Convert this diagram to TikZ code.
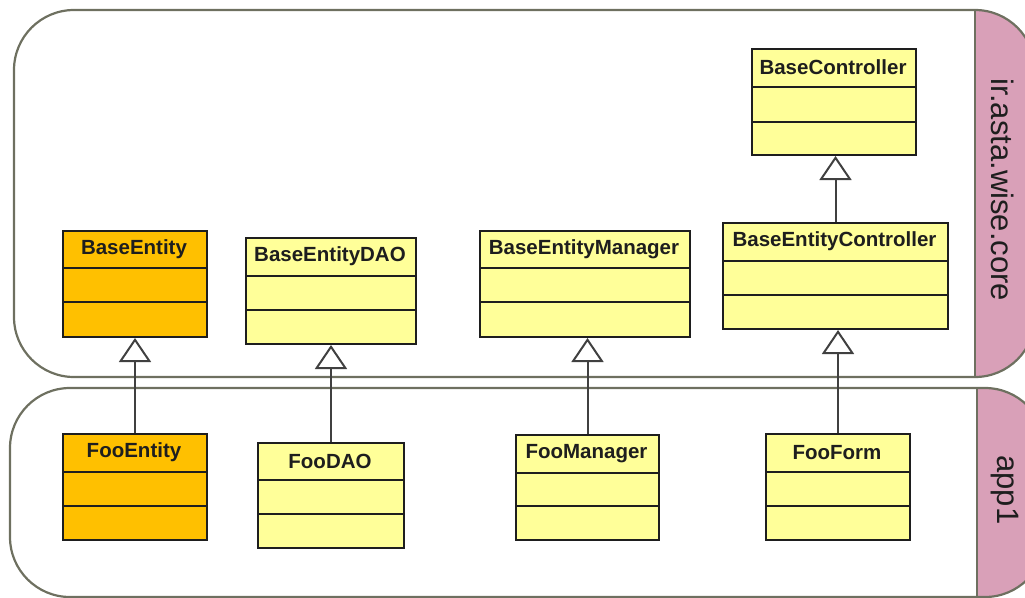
\documentclass[tikz,border=0pt]{standalone}
\usepackage{fontspec}
\setmainfont{Liberation Sans}
\usetikzlibrary{arrows.meta}

\definecolor{pkgline}{HTML}{6E7060}
\definecolor{tabpink}{HTML}{D9A0B8}
\definecolor{classyellow}{HTML}{FFFF99}
\definecolor{classorange}{HTML}{FFC000}
\definecolor{ink}{HTML}{1E1E1E}

\tikzset{
  pkg/.style={draw=pkgline, line width=2.2pt},
  classbox/.style={draw=ink, line width=2pt, rectangle, inner sep=0pt, anchor=north west},
  classname/.style={font=\fontsize{20.5}{24}\selectfont\bfseries, text=ink, inner sep=0pt},
  divider/.style={draw=ink, line width=2pt},
  tablabel/.style={font=\fontsize{31}{36}\selectfont, text=ink, rotate=-90, inner sep=0pt},
  gen/.style={draw=ink!85, line width=2pt, -{Triangle[open, width=32pt, length=24pt, line width=2pt]}},
}

% \umlclass{name}{fill}{left}{top}{right}{bottom}{div1}{div2}{title}
\newcommand{\umlclass}[9]{%
  \node[classbox, fill=#2, minimum width=#5pt-#3pt, minimum height=#6pt-#4pt] (#1) at (#3,#4) {};
  \draw[divider] (#3,#7) -- (#5,#7);
  \draw[divider] (#3,#8) -- (#5,#8);
  \node[classname] (#1-title) at ({(#3+#5)/2},{(#4+#7)/2}) {#9};
}

\begin{document}
\begin{tikzpicture}[x=1pt, y=-1pt]
\useasboundingbox (0,0) rectangle (1025,597);

% package ir.asta.wise.core
\begin{scope}
  \clip[rounded corners=60pt] (14,10) rectangle (1035,377);
  \fill[tabpink] (975,0) rectangle (1100,400);
\end{scope}
\draw[pkg, rounded corners=60pt] (14,10) rectangle (1035,377);
\draw[pkg] (975,10) -- (975,377);
\node[tablabel] (coretab) at (1003,190) {ir.asta.wise.core};

% package app1
\begin{scope}
  \clip[rounded corners=60pt] (10,388) rectangle (1045,597);
  \fill[tabpink] (977,380) rectangle (1100,620);
\end{scope}
\draw[pkg, rounded corners=60pt] (10,388) rectangle (1045,597);
\draw[pkg] (977,388) -- (977,597);
\node[tablabel] (apptab) at (1005,490) {app1};

% base classes
\umlclass{be}{classorange}{62}{230}{206}{336}{268}{302}{BaseEntity}
\umlclass{bdao}{classyellow}{245}{237}{415}{343}{276}{310}{BaseEntityDAO}
\umlclass{bman}{classyellow}{479}{230}{689}{336}{268}{302}{BaseEntityManager}
\umlclass{bec}{classyellow}{722}{222}{947}{328}{261}{295}{BaseEntityController}
\umlclass{bc}{classyellow}{751}{48}{915}{154}{87}{122}{BaseController}

% app1 classes
\umlclass{fe}{classorange}{62}{433}{206}{539}{472}{506}{FooEntity}
\umlclass{fdao}{classyellow}{257}{442}{403}{547}{480}{514}{FooDAO}
\umlclass{fman}{classyellow}{515}{434}{658}{539}{473}{506}{FooManager}
\umlclass{ff}{classyellow}{765}{433}{909}{539}{472}{506}{FooForm}

% generalizations
\draw[gen] (fe.north) -- (fe.north |- be.south);
\draw[gen] (fdao.north) -- (fdao.north |- bdao.south);
\draw[gen] (fman.north) -- (fman.north |- bman.south);
\draw[gen] (ff.north) -- (ff.north |- bec.south);
\draw[gen] (bec.north) -- (bec.north |- bc.south);
\end{tikzpicture}
\end{document}
